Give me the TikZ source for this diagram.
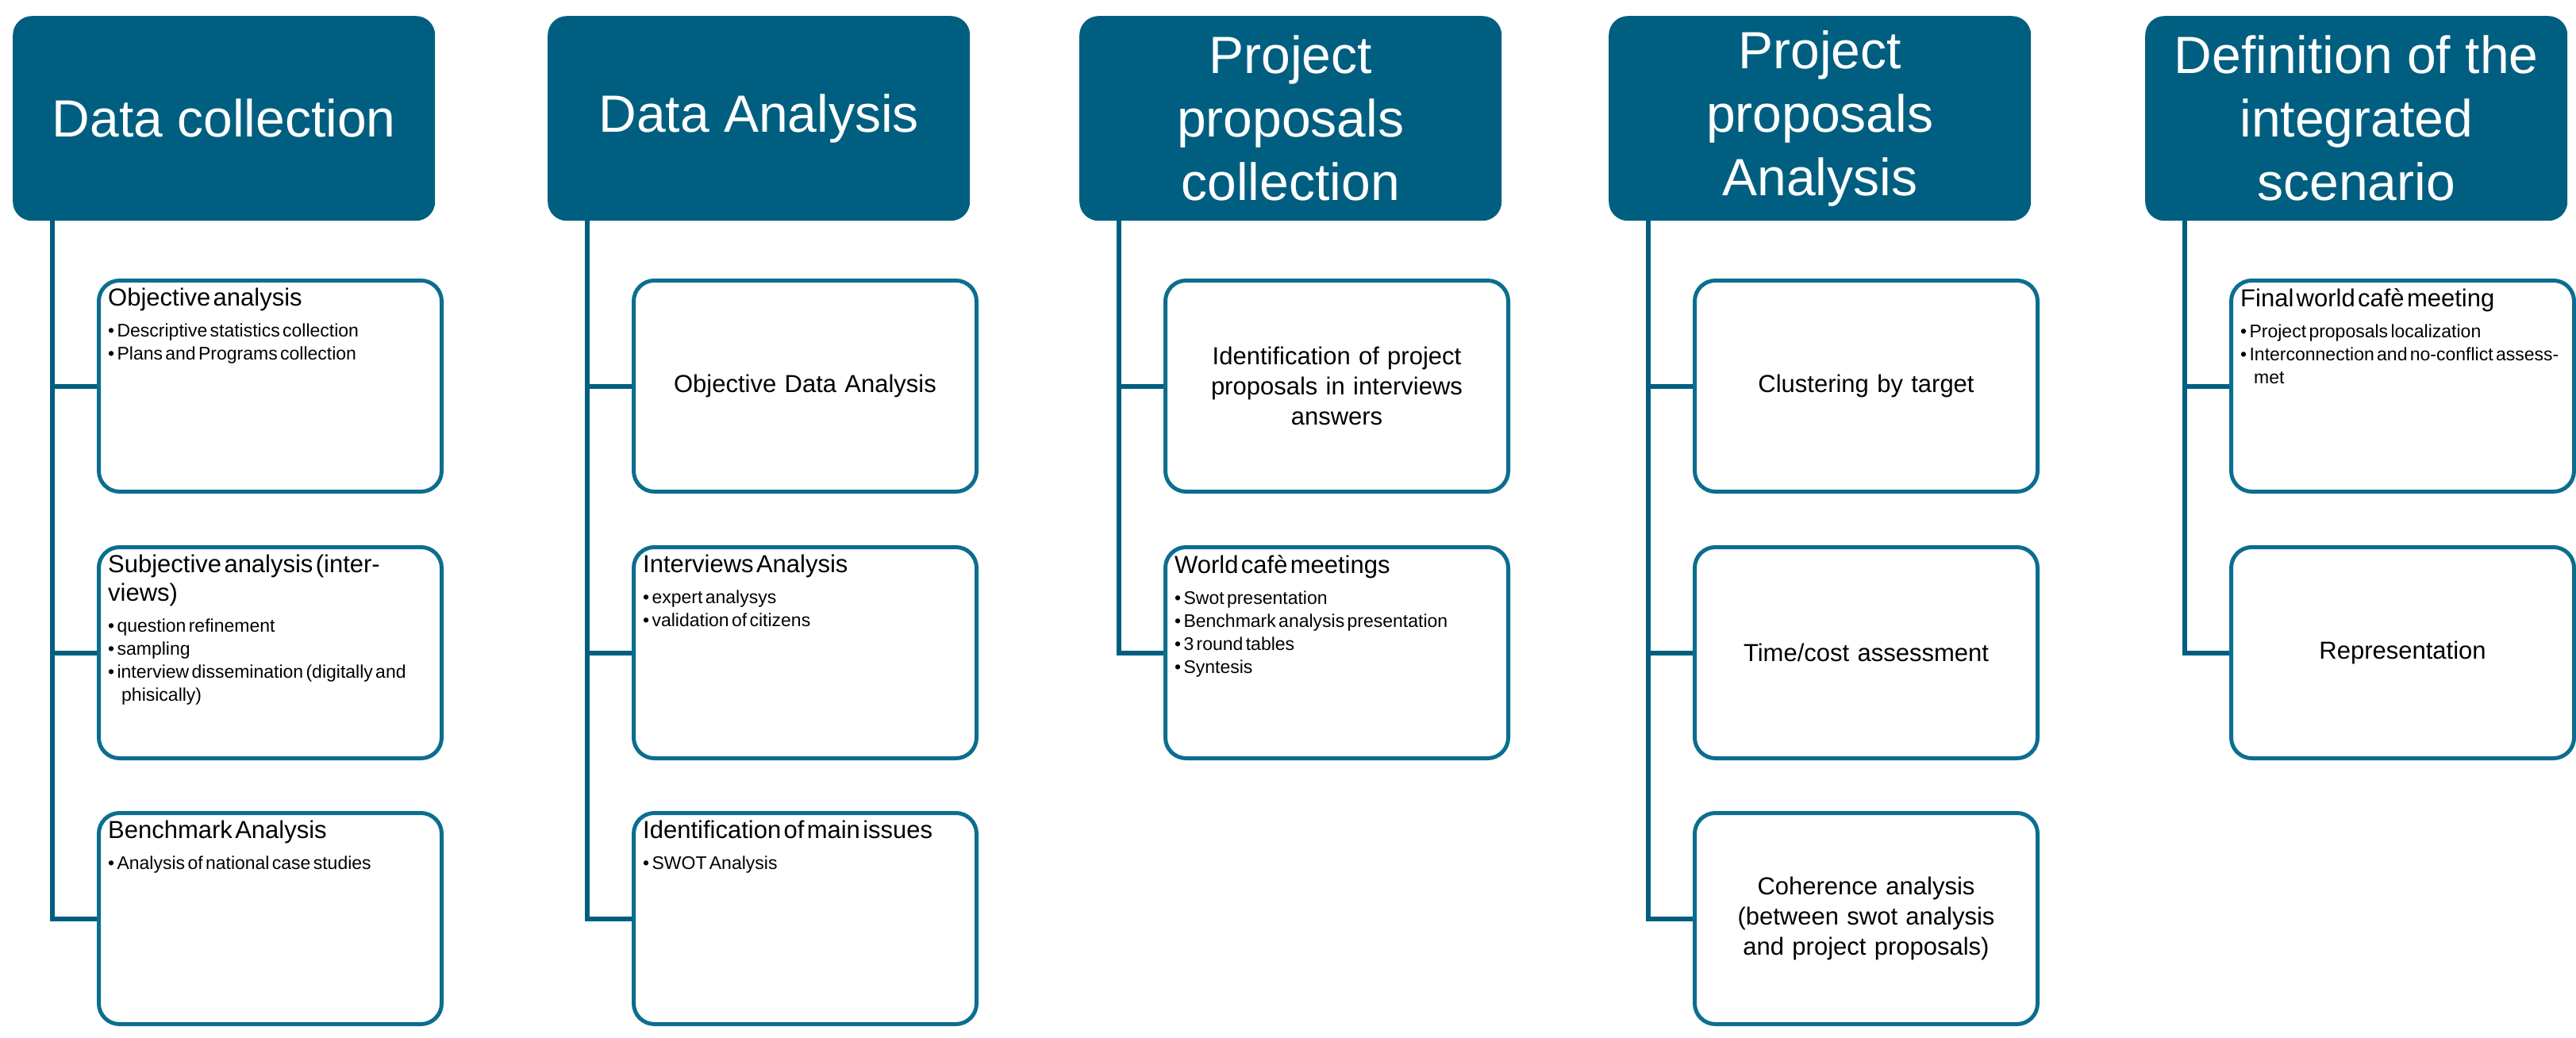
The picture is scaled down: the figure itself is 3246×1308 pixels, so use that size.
\documentclass[tikz,border=0pt]{standalone}
\usepackage{fontspec}
\setmainfont{Liberation Sans}
\definecolor{hdr}{HTML}{005F80}
\definecolor{bdr}{HTML}{0B6E8E}
\newcommand{\tit}[1]{{\fontsize{31}{36}\selectfont #1\par}\vspace{10pt}}
\newcommand{\bul}[1]{{\fontsize{23}{29}\selectfont\hangindent=17pt\hangafter=1 \textbullet\ #1\par}}
\begin{document}
\begin{tikzpicture}[x=1pt,y=-1pt,
  hdr/.style={fill=hdr,rounded corners=24pt,minimum width=532pt,minimum height=258pt,anchor=north west,text=white,align=center,inner sep=0pt,font=\fontsize{66}{80}\selectfont},
  box/.style={draw=bdr,line width=5pt,fill=white,rounded corners=26pt,minimum width=432pt,minimum height=266pt,anchor=north west,inner sep=0pt},
  cen/.style={align=center,font=\fontsize{31}{38}\selectfont,text width=400pt},
  tl/.style={anchor=north west,text width=408pt,align=left,inner sep=0pt},
  con/.style={draw=hdr,line width=6pt}]
\useasboundingbox (0,0) rectangle (3246,1308);
\foreach \i/\x in {1/16,2/690,3/1360,4/2027,5/2703}{
  \node[hdr] (h\i) at (\x,20) {};
  \coordinate (t\i) at (\x+50,278);
  \foreach \j/\y in {1/351,2/687,3/1022}{
    \coordinate (p\i\j) at (\x+106,\y);
  }
}
% headers text
\node[text=white,align=center,font=\fontsize{66}{80}\selectfont] (ht1) at (h1.center) {Data collection};
\node[text=white,align=center,font=\fontsize{66}{80}\selectfont] (ht2) at (h2.center) {Data Analysis};
\node[text=white,align=center,font=\fontsize{66}{80}\selectfont] (ht3) at (h3.center) {Project\\proposals\\collection};
\node[text=white,align=center,font=\fontsize{66}{80}\selectfont] (ht4) at (h4.center) {Project\\proposals\\Analysis};
\node[text=white,align=center,font=\fontsize{66}{80}\selectfont] (ht5) at (h5.center) {Definition of the\\integrated\\scenario};
% boxes
\foreach \i/\n in {1/3,2/3,3/2,4/3,5/2}{
  \foreach \j in {1,...,\n}{
    \node[box] (b\i\j) at (p\i\j) {};
  }
  \draw[con] (t\i) |- (b\i\n.west);
  \foreach \j in {1,...,\n}{
    \draw[con] (b\i\j.west) -- (b\i\j.west -| t\i);
  }
}
% column 1
\node[tl] (x11) at ([shift={(14,12)}]b11.north west) {\tit{Objective analysis}\bul{Descriptive statistics collection}\bul{Plans and Programs collection}};
\node[tl] (x12) at ([shift={(14,12)}]b12.north west) {\tit{Subjective analysis (interviews)}\bul{question refinement}\bul{sampling}\bul{interview dissemination (digitally and phisically)}};
\node[tl] (x13) at ([shift={(14,12)}]b13.north west) {\tit{Benchmark Analysis}\bul{Analysis of national case studies}};
% column 2
\node[cen] (x21) at (b21.center) {Objective Data Analysis};
\node[tl] (x22) at ([shift={(14,12)}]b22.north west) {\tit{Interviews Analysis}\bul{expert analysys}\bul{validation of citizens}};
\node[tl] (x23) at ([shift={(14,12)}]b23.north west) {\tit{Identification of main issues}\bul{SWOT Analysis}};
% column 3
\node[cen] (x31) at (b31.center) {Identification of project\\proposals in interviews\\answers};
\node[tl] (x32) at ([shift={(14,12)}]b32.north west) {\tit{World cafè meetings}\bul{Swot presentation}\bul{Benchmark analysis presentation}\bul{3 round tables}\bul{Syntesis}};
% column 4
\node[cen] (x41) at (b41.center) {Clustering by target};
\node[cen] (x42) at (b42.center) {Time/cost assessment};
\node[cen] (x43) at (b43.center) {Coherence analysis\\(between swot analysis\\and project proposals)};
% column 5
\node[tl] (x51) at ([shift={(14,12)}]b51.north west) {\tit{Final world cafè meeting}\bul{Project proposals localization}\bul{Interconnection and no-conflict assessmet}};
\node[cen] (x52) at (b52.center) {Representation};
\end{tikzpicture}
\end{document}
